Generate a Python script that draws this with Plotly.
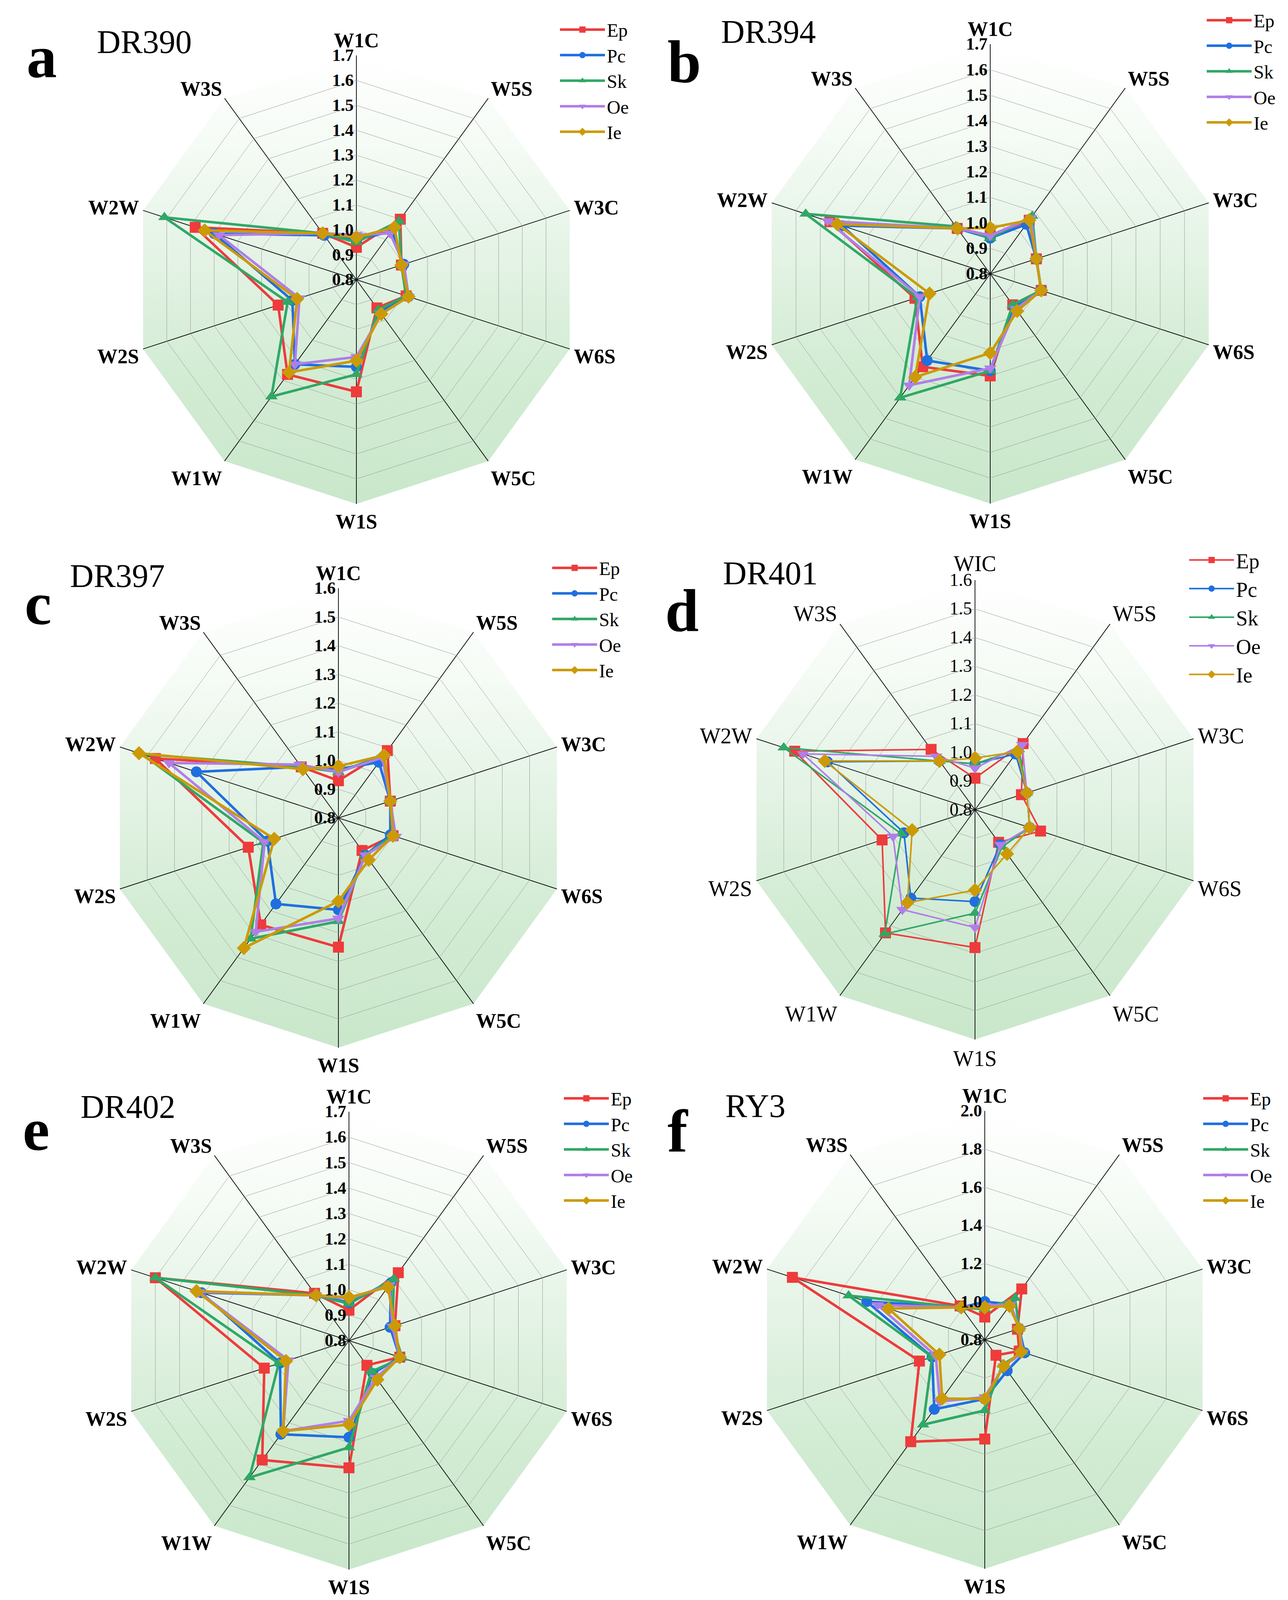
import numpy as np
import plotly.graph_objects as go

#Axis categories, clockwise from the top
cats = ["W1C", "W5S", "W3C", "W6S", "W5C", "W1S", "W1W", "W2S", "W2W", "W3S"]
cats_d = ["WIC", "W5S", "W3C", "W6S", "W5C", "W1S", "W1W", "W2S", "W2W", "W3S"]
series = ["Ep", "Pc", "Sk", "Oe", "Ie"]

#Values read per panel, rows follow series order (Ep, Pc, Sk, Oe, Ie)
dr390 = [
    [0.93, 1.10, 0.99, 1.01, 0.94, 1.25, 1.27, 1.13, 1.48, 1.03],
    [0.96, 1.04, 1.00, 1.02, 0.96, 1.15, 1.22, 1.07, 1.40, 1.02],
    [0.95, 1.09, 0.99, 1.01, 0.95, 1.18, 1.38, 1.09, 1.61, 1.03],
    [0.98, 1.03, 1.00, 1.02, 0.97, 1.11, 1.22, 1.04, 1.38, 1.03],
    [0.97, 1.06, 0.99, 1.02, 0.97, 1.125, 1.26, 1.05, 1.44, 1.03],
]
dr394 = [
    [0.95, 1.06, 0.99, 1.01, 0.95, 1.20, 1.25, 1.11, 1.46, 1.02],
    [0.94, 1.04, 0.99, 1.01, 0.96, 1.18, 1.22, 1.09, 1.41, 1.02],
    [0.94, 1.08, 0.99, 1.01, 0.95, 1.18, 1.40, 1.10, 1.56, 1.03],
    [0.95, 1.07, 0.99, 1.01, 0.97, 1.17, 1.34, 1.09, 1.47, 1.02],
    [0.98, 1.06, 0.99, 1.01, 0.98, 1.11, 1.30, 1.05, 1.43, 1.02],
]
dr397 = [
    [0.93, 1.09, 0.99, 1.00, 0.94, 1.25, 1.26, 1.13, 1.47, 1.02],
    [0.97, 1.04, 0.99, 0.99, 0.96, 1.12, 1.17, 1.06, 1.32, 1.02],
    [0.96, 1.07, 0.99, 1.00, 0.96, 1.16, 1.32, 1.075, 1.52, 1.02],
    [0.96, 1.06, 0.99, 1.01, 0.96, 1.15, 1.29, 1.07, 1.42, 1.03],
    [0.98, 1.07, 0.99, 1.00, 0.98, 1.09, 1.36, 1.035, 1.53, 1.01],
]
dr401 = [
    [0.91, 1.085, 0.97, 1.04, 0.94, 1.28, 1.33, 1.14, 1.46, 1.06],
    [0.96, 1.04, 0.99, 1.00, 0.95, 1.12, 1.18, 1.06, 1.34, 1.01],
    [0.96, 1.06, 0.99, 1.00, 0.96, 1.16, 1.335, 1.07, 1.50, 1.01],
    [0.945, 1.08, 0.99, 1.00, 0.95, 1.21, 1.23, 1.10, 1.43, 1.03],
    [0.98, 1.05, 0.99, 1.00, 0.99, 1.08, 1.20, 1.03, 1.35, 1.01],
]
dr402 = [
    [0.92, 1.13, 0.99, 1.01, 0.92, 1.30, 1.38, 1.15, 1.60, 1.03],
    [0.95, 1.08, 0.97, 1.01, 0.96, 1.18, 1.255, 1.085, 1.41, 1.02],
    [0.945, 1.10, 0.98, 1.02, 0.95, 1.22, 1.465, 1.09, 1.60, 1.02],
    [0.965, 1.07, 0.98, 1.01, 0.98, 1.115, 1.24, 1.05, 1.42, 1.02],
    [0.97, 1.06, 0.99, 1.01, 0.99, 1.13, 1.24, 1.06, 1.43, 1.02],
]
ry3 = [
    [0.92, 1.13, 0.98, 0.99, 0.90, 1.32, 1.46, 1.16, 1.86, 1.02],
    [1.00, 1.03, 0.99, 1.02, 1.00, 1.11, 1.25, 1.09, 1.45, 1.01],
    [0.96, 1.07, 0.99, 1.01, 0.96, 1.17, 1.35, 1.09, 1.55, 1.01],
    [0.98, 1.03, 0.99, 1.01, 0.97, 1.10, 1.20, 1.07, 1.39, 1.01],
    [0.97, 1.02, 0.99, 1.00, 0.97, 1.11, 1.18, 1.05, 1.33, 1.01],
]

colors = ["#ee3b3b", "#1f6fe0", "#2fa866", "#b07ee8", "#cc9a06"]
symbols = ["square", "circle", "triangle-up", "triangle-down", "diamond"]

W, H = 3296, 4183
SERIF = "Liberation Serif"

#Panel setup: letter, title, data, labels, radial max, dtick, center px, radius px, legend px, bold text
panels = [
    dict(letter="a", title="DR390", data=dr390, cats=cats, rmax=1.7, dtick=0.1,
         c=(904, 708), R=574, leg=(1420, 30), lt=(58, 190), tt=(238, 128), bold=True),
    dict(letter="b", title="DR394", data=dr394, cats=cats, rmax=1.7, dtick=0.1,
         c=(2526, 693), R=588, leg=(3075, 6), lt=(1698, 204), tt=(1835, 102), bold=True),
    dict(letter="c", title="DR397", data=dr397, cats=cats, rmax=1.6, dtick=0.1,
         c=(858, 2086), R=588, leg=(1400, 1408), lt=(53, 1591), tt=(169, 1495), bold=True),
    dict(letter="d", title="DR401", data=dr401, cats=cats_d, rmax=1.6, dtick=0.1,
         c=(2487, 2065), R=588, leg=(3030, 1384), lt=(1692, 1609), tt=(1840, 1488), bold=False),
    dict(letter="e", title="DR402", data=dr402, cats=cats, rmax=1.7, dtick=0.1,
         c=(885, 3424), R=586, leg=(1430, 2766), lt=(48, 2937), tt=(196, 2854), bold=True),
    dict(letter="f", title="RY3", data=ry3, cats=cats, rmax=2.0, dtick=0.2,
         c=(2512, 3422), R=586, leg=(3066, 2766), lt=(1698, 2941), tt=(1846, 2852), bold=True),
]

fig = go.Figure()
layout = dict(width=W, height=H, margin=dict(l=0, r=0, t=0, b=0),
              paper_bgcolor="white", plot_bgcolor="rgba(0,0,0,0)", annotations=[])

#Decagon outline (unit radius) used for the gradient backdrop under each radar
ang = np.deg2rad(np.arange(0, 361, 36))
dec_x = np.sin(ang)
dec_y = np.cos(ang)

for i, p in enumerate(panels):
    n = "" if i == 0 else str(i + 1)
    cx, cy = p["c"]
    R = p["R"]
    xd = [(cx - R) / W, (cx + R) / W]
    yd = [1 - (cy + R) / H, 1 - (cy - R) / H]
    weight = "bold" if p["bold"] else "normal"

    #Gradient backdrop on a hidden cartesian pair sharing the polar domain
    fig.add_trace(go.Scatter(
        x=dec_x, y=dec_y, mode="lines", fill="toself",
        line=dict(width=0, color="rgba(0,0,0,0)"),
        fillgradient=dict(type="vertical", colorscale=[
            [0, "#c9e7cb"], [0.3, "#d3ecd4"], [0.55, "#e4f3e5"], [0.8, "#f5fbf5"], [1, "#ffffff"]]),
        hoverinfo="skip", showlegend=False, xaxis="x" + n, yaxis="y" + n))
    layout["xaxis" + n] = dict(domain=xd, range=[-1, 1], visible=False, fixedrange=True,
                               anchor="y" + n)
    layout["yaxis" + n] = dict(domain=yd, range=[-1, 1], visible=False, fixedrange=True,
                               anchor="x" + n)

    for s, vals, col, sym in zip(series, p["data"], colors, symbols):
        fig.add_trace(go.Scatterpolar(
            r=vals + [vals[0]], theta=p["cats"] + [p["cats"][0]],
            mode="lines+markers", name=s,
            line=dict(color=col, width=6.5 if p["bold"] else 4),
            marker=dict(symbol=sym, size=28, color=col),
            subplot="polar" + n, legend="legend" + n))

    layout["polar" + n] = dict(
        domain=dict(x=xd, y=yd),
        bgcolor="rgba(0,0,0,0)",
        gridshape="linear",
        angularaxis=dict(
            direction="clockwise", rotation=90, categoryorder="array",
            categoryarray=p["cats"], ticks="", showline=True,
            linecolor="rgba(0,0,0,0)", linewidth=1,
            gridcolor="#151515", gridwidth=2.2,
            tickfont=dict(family=SERIF, size=52 if p["bold"] else 56,
                          color="black", weight=weight)),
        radialaxis=dict(
            range=[0.8, p["rmax"]], tick0=0.8, dtick=p["dtick"], tickformat=".1f",
            angle=90, tickangle=90, side="counterclockwise", ticks="",
            showline=False, gridcolor="#9a9a9a", gridwidth=1.3,
            tickfont=dict(family=SERIF, size=44 if p["bold"] else 46,
                          color="black", weight=weight)))

    lx, ly = p["leg"]
    layout["legend" + n] = dict(
        x=lx / W, y=1 - ly / H, xanchor="left", yanchor="top",
        font=dict(family=SERIF, size=48 if p["bold"] else 54, color="black"),
        bgcolor="rgba(0,0,0,0)", itemwidth=115, tracegroupgap=0)

    #Panel letter and title
    ax_, ay_ = p["lt"]
    layout["annotations"].append(dict(
        text=p["letter"], x=ax_ / W, y=1 - (ay_ - 0.34 * 155) / H, xref="paper", yref="paper",
        xanchor="left", yanchor="middle", showarrow=False,
        font=dict(family=SERIF, size=155, color="black", weight="bold")))
    tx, ty = p["tt"]
    layout["annotations"].append(dict(
        text=p["title"], x=tx / W, y=1 - (ty - 0.34 * 84) / H, xref="paper", yref="paper",
        xanchor="left", yanchor="middle", showarrow=False,
        font=dict(family=SERIF, size=84, color="black")))

fig.update_layout(**layout)
fig.write_html("out.html")
